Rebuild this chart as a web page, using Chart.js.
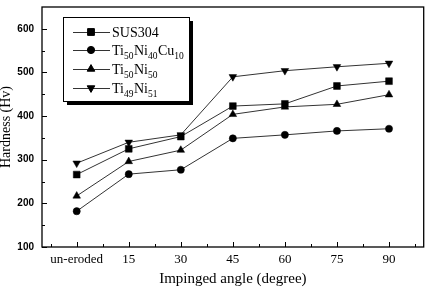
<!DOCTYPE html>
<html><head><meta charset="utf-8">
<script src="https://cdn.jsdelivr.net/npm/chart.js@4/dist/chart.umd.min.js"></script>
<style>html,body{margin:0;padding:0;background:#fff}#wrap{width:429px;height:289px}</style>
</head><body><div id="wrap"><canvas id="c" width="429" height="289"></canvas></div>
<script>
const angles = [0, 15, 30, 45, 60, 75, 90];
const angleLabels = ["un-eroded", "15", "30", "45", "60", "75", "90"];
const sus304 = [266, 325, 353, 423, 428, 469, 480];
const tiNiCu = [182, 267, 277, 349, 357, 366, 371];
const ti50Ni50 = [217, 296, 322, 404, 421, 427, 449];
const ti49Ni51 = [292, 340, 357, 490, 504, 513, 521];
const yTicks = [100, 200, 300, 400, 500, 600];
const yMinorTicks = [150, 250, 350, 450, 550];
const xMinorTicks = [-7.5, 7.5, 22.5, 37.5, 52.5, 67.5, 82.5, 97.5];
const yTitle = "Hardness (Hv)";
const xTitle = "Impinged angle (degree)";
const legendItems = [
  {parts:[["SUS304",0]], style:"rect"},
  {parts:[["Ti",0],["50",1],["Ni",0],["40",1],["Cu",0],["10",1]], style:"circle"},
  {parts:[["Ti",0],["50",1],["Ni",0],["50",1]], style:"triangle"},
  {parts:[["Ti",0],["49",1],["Ni",0],["51",1]], style:"triangle", rot:180}
];

function pts(arr){ return angles.map((a,i)=>({x:a,y:arr[i]})); }
function ds(label, arr, style, r, rot){
  return {label, data:pts(arr), borderColor:'#333', borderWidth:1, backgroundColor:'#000',
    pointStyle:style, pointRadius:r, pointRotation:rot||0, pointBorderColor:'#000', pointBackgroundColor:'#000', pointBorderWidth:0.5, tension:0};
}

const serif = "'Liberation Serif','Times New Roman',serif";
const sans = "'Liberation Sans',Arial,sans-serif";

const framePlugin = {
  id:'frame',
  afterDatasetsDraw(chart){
    const {ctx, chartArea:a, scales} = chart;
    ctx.save();
    ctx.strokeStyle = '#000';
    ctx.lineWidth = 1.3;
    ctx.strokeRect(a.left, a.top, a.right-a.left, a.bottom-a.top);
    ctx.lineWidth = 1;
    const x = scales.x, y = scales.y;
    ctx.beginPath();
    angles.forEach(v=>{ const px=Math.round(x.getPixelForValue(v))+0.5; ctx.moveTo(px,a.bottom); ctx.lineTo(px,a.bottom-5); });
    xMinorTicks.forEach(v=>{ const px=Math.round(x.getPixelForValue(v))+0.5; ctx.moveTo(px,a.bottom); ctx.lineTo(px,a.bottom-3); });
    yTicks.forEach(v=>{ const py=Math.round(y.getPixelForValue(v))+0.5; ctx.moveTo(a.left,py); ctx.lineTo(a.left+5,py); });
    yMinorTicks.forEach(v=>{ const py=Math.round(y.getPixelForValue(v))+0.5; ctx.moveTo(a.left,py); ctx.lineTo(a.left+3,py); });
    ctx.stroke();

    // axis titles
    ctx.fillStyle='#000';
    ctx.textAlign='center'; ctx.textBaseline='middle';
    ctx.font = "15px "+serif;
    ctx.fillText(xTitle, (a.left+a.right)/2, 279);
    ctx.font = "14px "+serif;
    ctx.save();
    ctx.translate(6, (a.top+a.bottom)/2);
    ctx.rotate(-Math.PI/2);
    ctx.fillText(yTitle, 0, 0);
    ctx.restore();

    // legend
    const bx=63, by=17, bw=126, bh=84;
    ctx.fillStyle='#000';
    ctx.fillRect(bx+4, by+4, bw, bh);
    ctx.fillStyle='#fff';
    ctx.fillRect(bx, by, bw, bh);
    ctx.strokeStyle='#000'; ctx.lineWidth=1;
    ctx.strokeRect(bx+0.5, by+0.5, bw, bh);
    const rows=[32,50,69,88];
    const radii={rect:4.8, circle:3.6, triangle:4.4};
    legendItems.forEach((it,i)=>{
      const ry=rows[i];
      ctx.strokeStyle='#333'; ctx.lineWidth=1;
      ctx.beginPath(); ctx.moveTo(73,ry+0.5); ctx.lineTo(110,ry+0.5); ctx.stroke();
      ctx.fillStyle='#000'; ctx.strokeStyle='#000';
      Chart.helpers.drawPoint(ctx,{pointStyle:it.style, radius:radii[it.style], rotation:it.rot||0, borderWidth:0.5}, 91, ry);
      let tx=112;
      ctx.textBaseline='alphabetic'; ctx.textAlign='left';
      it.parts.forEach(([t,sub])=>{
        ctx.font = sub ? "9.5px "+serif : "14px "+serif;
        ctx.fillStyle='#000';
        ctx.fillText(t, tx, sub ? ry+8.5 : ry+5);
        tx += ctx.measureText(t).width + (sub?0.5:0);
      });
    });
    ctx.restore();
  }
};

new Chart(document.getElementById('c'), {
  type:'line',
  data:{datasets:[
    ds('SUS304', sus304, 'rect', 4.8),
    ds('Ti50Ni40Cu10', tiNiCu, 'circle', 3.6),
    ds('Ti50Ni50', ti50Ni50, 'triangle', 4.4),
    ds('Ti49Ni51', ti49Ni51, 'triangle', 4.4, 180)
  ]},
  options:{
    responsive:false, animation:false, devicePixelRatio:1,
    layout:{padding:{top:7,right:5,left:0,bottom:0}},
    plugins:{legend:{display:false}, tooltip:{enabled:false}},
    scales:{
      x:{type:'linear', min:-10, max:100,
        afterBuildTicks(s){ s.ticks = angles.map(v=>({value:v})); },
        afterFit(s){ s.height = 42; s.paddingLeft=0; s.paddingRight=0; },
        grid:{display:false, drawTicks:false, tickLength:0}, border:{display:false},
        ticks:{autoSkip:false, maxRotation:0, padding:5, color:'#000', font:{family:serif, size:13},
          callback(v){ const i=angles.indexOf(v); return i>=0?angleLabels[i]:''; }},
        title:{display:false}
      },
      y:{type:'linear', min:100, max:650,
        afterBuildTicks(s){ s.ticks = yTicks.map(v=>({value:v})); },
        afterFit(s){ s.width = 42; s.paddingTop=0; s.paddingBottom=0; },
        grid:{display:false, drawTicks:false, tickLength:0}, border:{display:false},
        ticks:{padding:8, color:'#000', font:{family:sans, size:10, weight:'bold'}},
        title:{display:false}
      }
    }
  },
  plugins:[framePlugin]
});
</script></body></html>
